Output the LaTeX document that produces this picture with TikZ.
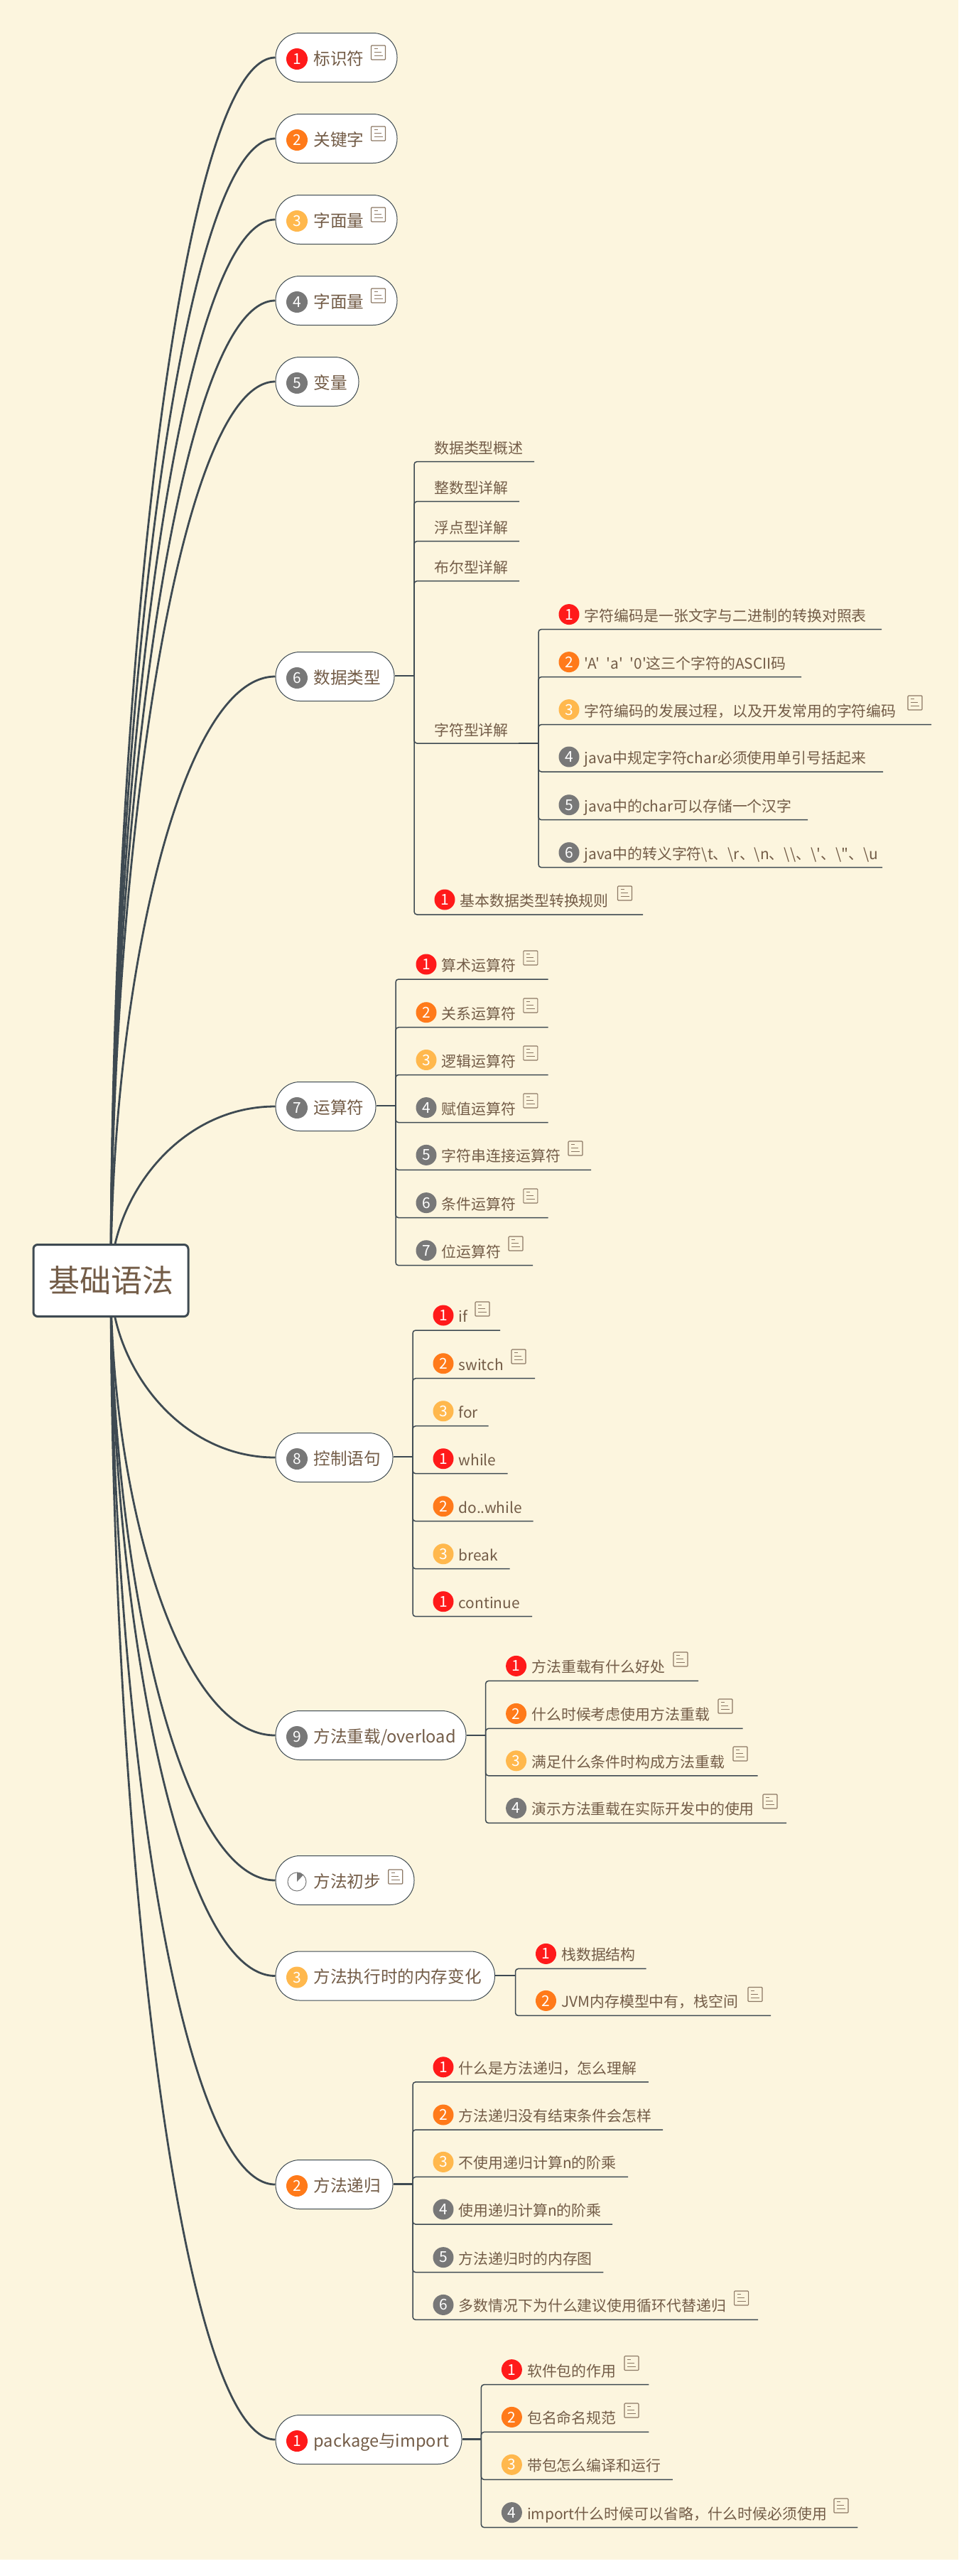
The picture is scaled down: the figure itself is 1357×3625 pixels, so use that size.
\documentclass[tikz,border=0pt]{standalone}
\usepackage{fontspec}
\usetikzlibrary{calc,backgrounds}
\newfontfamily\mapfont{Noto Sans CJK SC}
\definecolor{Paper}{HTML}{FCF5DE}
\definecolor{InkBrown}{HTML}{735C47}
\definecolor{NoteBrown}{HTML}{8C7864}
\definecolor{LineDark}{HTML}{3E4A52}
\definecolor{MarkRed}{HTML}{FF1A1A}
\definecolor{MarkOrange}{HTML}{FF7A1A}
\definecolor{MarkYellow}{HTML}{FFB84D}
\definecolor{MarkGray}{HTML}{787878}
\tikzset{
  branch/.style={draw=LineDark,line width=2.8pt},
  stem/.style={draw=LineDark,line width=2.6pt},
  twig/.style={draw=LineDark,line width=1.5pt,rounded corners=4pt},
  pill/.style={draw=LineDark,fill=white,line width=1pt,rounded corners=34pt,minimum height=69pt,anchor=west,inner sep=0pt},
  badge/.style={circle,inner sep=0pt,minimum size=29pt,text=white,font=\mapfont\fontsize{21}{21}\selectfont},
  topictext/.style={anchor=west,inner sep=0pt,text=InkBrown,text height=19pt,text depth=5pt,font=\mapfont\fontsize{23.6}{24}\selectfont},
  leaftext/.style={anchor=west,inner sep=0pt,text=InkBrown,text height=17pt,text depth=4pt,font=\mapfont\fontsize{20.9}{21}\selectfont},
  noteicon/.pic={
    \draw[NoteBrown,line width=1.1pt,rounded corners=1pt] (-10,-10) rectangle (10,10);
    \draw[NoteBrown,line width=1pt] (-6,-5.5) -- (-1,-5.5) (-6,-0.5) -- (4,-0.5) (-6,4.5) -- (6,4.5);
  },
}
% topic: name, y, width, colour, number, text
\newcommand{\topic}[6]{
  \node[pill,minimum width=#3] at (387.5,#2) (#1) {};
  \node[badge,fill=#4,minimum size=30pt] at ($(#1.west)+(30.5,2)$) (#1b) {#5};
  \node[topictext] at ($(#1.west)+(54,3)$) (#1l) {#6};
}
% leaf: junction, y, end x, name, colour, number, text
\newcommand{\leaf}[7]{
  \coordinate (#4e) at (#3,#2);
  \node[badge,fill=#5] at ($(#1|-#4e)+(43,-21)$) (#4b) {#6};
  \node[leaftext] at ($(#1|-#4e)+(64.5,-18)$) (#4) {#7};
  \draw[twig] (#1) |- (#4e);
}
% plainleaf: junction, y, end x, name, text
\newcommand{\plainleaf}[5]{
  \coordinate (#4e) at (#3,#2);
  \node[leaftext] at ($(#1|-#4e)+(28,-17.5)$) (#4) {#5};
  \draw[twig] (#1) |- (#4e);
}
\begin{document}
\begin{tikzpicture}[x=1pt,y=-1pt]
  \useasboundingbox (0,0) rectangle (1357,3625);

  \node[draw=LineDark,fill=white,line width=3pt,rounded corners=6pt,minimum width=218pt,minimum height=101pt,inner sep=0pt,
    text=InkBrown,font=\mapfont\fontsize{44}{44}\selectfont] at (156,1802) (root) {基础语法};

  \topic{t1}{81}{171}{MarkRed}{1}{标识符}
  \topic{t2}{195}{171}{MarkOrange}{2}{关键字}
  \topic{t3}{309}{171}{MarkYellow}{3}{字面量}
  \topic{t4}{423}{171}{MarkGray}{4}{字面量}
  \topic{t5}{537}{117}{MarkGray}{5}{变量}
  \topic{t6}{952}{167}{MarkGray}{6}{数据类型}
  \topic{t7}{1557}{141}{MarkGray}{7}{运算符}
  \topic{t8}{2051}{165}{MarkGray}{8}{控制语句}
  \topic{t9}{2442}{268}{MarkGray}{9}{方法重载/overload}
  \node[pill,minimum width=195] at (387.5,2646) (t10) {};
  \node[topictext] at ($(t10.west)+(54,3)$) (t10l) {方法初步};
  \node[circle,draw=MarkGray,fill=white,line width=1pt,minimum size=26pt,inner sep=0pt] at ($(t10.west)+(30.5,2)$) (t10b) {};
  \fill[MarkGray] (t10b.center) -- (t10b.north) arc[start angle=90,end angle=45,radius=13pt] -- cycle;
  \topic{t11}{2780.5}{308.5}{MarkYellow}{3}{方法执行时的内存变化}
  \topic{t12}{3074}{165}{MarkOrange}{2}{方法递归}
  \topic{t13}{3433}{262}{MarkRed}{1}{package与import}

  \begin{pgfonlayer}{background}
    \fill[white] (0,0) rectangle (1357,3625);
    \fill[Paper] (0,0) rectangle (1349,3602);
    \foreach \n in {t1,t2,t3,t4,t5,t6,t7,t8,t9,t10,t11,t12,t13}
      \draw[branch] (root.center) .. controls ($(root.center)!0.47!(root.center|-\n.west)$) and ($(\n.west)+(-137,0)$) .. (\n.west);
  \end{pgfonlayer}

  \pic at (532.5,74) {noteicon};
  \pic at (532.5,188) {noteicon};
  \pic at (532.5,302) {noteicon};
  \pic at (532.5,416) {noteicon};

  % data types
  \coordinate (j6) at (583,951);
  \draw[stem] (t6.east|-j6) -- (j6);
  \plainleaf{j6}{649.6}{752}{d1}{数据类型概述}
  \plainleaf{j6}{705.6}{731}{d2}{整数型详解}
  \plainleaf{j6}{761.6}{731}{d3}{浮点型详解}
  \plainleaf{j6}{817.6}{731}{d4}{布尔型详解}
  \plainleaf{j6}{1046}{730}{d5}{字符型详解}
  \leaf{j6}{1287}{905}{d6}{MarkRed}{1}{基本数据类型转换规则}
  \pic at (879.5,1257) {noteicon};

  \coordinate (j5) at (758,1046);
  \draw[stem] (d5e) -- (j5);
  \leaf{j5}{885.6}{1241}{c1}{MarkRed}{1}{字符编码是一张文字与二进制的转换对照表}
  \leaf{j5}{952.6}{1128}{c2}{MarkOrange}{2}{'A'\ \ 'a'\ \ '0'这三个字符的ASCII码}
  \leaf{j5}{1019.6}{1311}{c3}{MarkYellow}{3}{字符编码的发展过程，以及开发常用的字符编码}
  \pic at (1288,989) {noteicon};
  \leaf{j5}{1086}{1243}{c4}{MarkGray}{4}{java中规定字符char必须使用单引号括起来}
  \leaf{j5}{1153.7}{1137}{c5}{MarkGray}{5}{java中的char可以存储一个汉字}
  \leaf{j5}{1220.7}{1242}{c6}{MarkGray}{6}{java中的转义字符\textbackslash t、\textbackslash r、\textbackslash n、\textbackslash\textbackslash 、\textbackslash '、\textbackslash "、\textbackslash u}

  % operators
  \coordinate (j7) at (557,1556);
  \draw[stem] (t7.east|-j7) -- (j7);
  \leaf{j7}{1378}{771.5}{o1}{MarkRed}{1}{算术运算符}
  \leaf{j7}{1445.7}{771.5}{o2}{MarkOrange}{2}{关系运算符}
  \leaf{j7}{1512.5}{771.5}{o3}{MarkYellow}{3}{逻辑运算符}
  \leaf{j7}{1579.6}{771.5}{o4}{MarkGray}{4}{赋值运算符}
  \leaf{j7}{1646.4}{832}{o5}{MarkGray}{5}{字符串连接运算符}
  \leaf{j7}{1713.6}{771.5}{o6}{MarkGray}{6}{条件运算符}
  \leaf{j7}{1780.7}{750}{o7}{MarkGray}{7}{位运算符}
  \pic at (746.8,1348) {noteicon};
  \pic at (746.8,1415) {noteicon};
  \pic at (746.8,1482) {noteicon};
  \pic at (746.8,1549) {noteicon};
  \pic at (810,1616) {noteicon};
  \pic at (746.8,1683) {noteicon};
  \pic at (726,1750) {noteicon};

  % control flow
  \coordinate (j8) at (581,2050);
  \draw[stem] (t8.east|-j8) -- (j8);
  \leaf{j8}{1872}{704}{f1}{MarkRed}{1}{if}
  \leaf{j8}{1939.7}{753}{f2}{MarkOrange}{2}{switch}
  \leaf{j8}{2006.7}{687.5}{f3}{MarkYellow}{3}{for}
  \leaf{j8}{2073.7}{714.5}{f4}{MarkRed}{1}{while}
  \leaf{j8}{2140.7}{750.7}{f5}{MarkOrange}{2}{do..while}
  \leaf{j8}{2207.7}{717.5}{f6}{MarkYellow}{3}{break}
  \leaf{j8}{2274.7}{749}{f7}{MarkRed}{1}{continue}
  \pic at (679,1842) {noteicon};
  \pic at (730,1909) {noteicon};

  % overload
  \coordinate (j9) at (683.6,2442);
  \draw[stem] (t9.east|-j9) -- (j9);
  \leaf{j9}{2365.4}{983}{v1}{MarkRed}{1}{方法重载有什么好处}
  \leaf{j9}{2432.4}{1045.5}{v2}{MarkOrange}{2}{什么时候考虑使用方法重载}
  \leaf{j9}{2498.8}{1066.5}{v3}{MarkYellow}{3}{满足什么条件时构成方法重载}
  \leaf{j9}{2565.4}{1107}{v4}{MarkGray}{4}{演示方法重载在实际开发中的使用}
  \pic at (958,2335) {noteicon};
  \pic at (1021,2401) {noteicon};
  \pic at (1042,2468) {noteicon};
  \pic at (1084,2535) {noteicon};

  \pic at (556.7,2641) {noteicon};

  % memory
  \coordinate (j11) at (725.5,2780);
  \draw[stem] (t11.east|-j11) -- (j11);
  \leaf{j11}{2770.4}{909.6}{m1}{MarkRed}{1}{栈数据结构}
  \leaf{j11}{2836.4}{1085}{m2}{MarkOrange}{2}{JVM内存模型中有，栈空间}
  \pic at (1063,2806.5) {noteicon};

  % recursion
  \coordinate (j12) at (581,3073.7);
  \draw[stem] (t12.east|-j12) -- (j12);
  \leaf{j12}{2929.8}{912.8}{r1}{MarkRed}{1}{什么是方法递归，怎么理解}
  \leaf{j12}{2997}{933}{r2}{MarkOrange}{2}{方法递归没有结束条件会怎样}
  \leaf{j12}{3063.4}{884}{r3}{MarkYellow}{3}{不使用递归计算n的阶乘}
  \leaf{j12}{3130}{862}{r4}{MarkGray}{4}{使用递归计算n的阶乘}
  \leaf{j12}{3197.6}{849.4}{r5}{MarkGray}{5}{方法递归时的内存图}
  \leaf{j12}{3264.4}{1067}{r6}{MarkGray}{6}{多数情况下为什么建议使用循环代替递归}
  \pic at (1043.6,3234) {noteicon};

  % packages
  \coordinate (j13) at (677.4,3432.7);
  \draw[stem] (t13.east|-j13) -- (j13);
  \leaf{j13}{3355.6}{913.4}{p1}{MarkRed}{1}{软件包的作用}
  \leaf{j13}{3422.4}{913.4}{p2}{MarkOrange}{2}{包名命名规范}
  \leaf{j13}{3489.3}{946.8}{p3}{MarkYellow}{3}{带包怎么编译和运行}
  \leaf{j13}{3556.6}{1207.4}{p4}{MarkGray}{4}{import什么时候可以省略，什么时候必须使用}
  \pic at (889,3325.5) {noteicon};
  \pic at (889,3392) {noteicon};
  \pic at (1184,3526) {noteicon};
\end{tikzpicture}
\end{document}
